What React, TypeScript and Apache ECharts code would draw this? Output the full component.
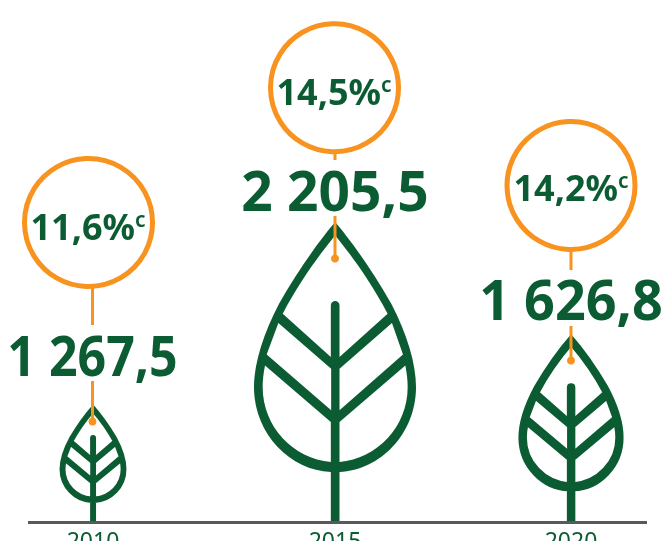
import React, { useEffect, useRef } from "react";
import * as echarts from "echarts";

const years = ["2010", "2015", "2020"];
const values = [1267.5, 2205.5, 1626.8];
const valueLabels = ["1 267,5", "2 205,5", "1 626,8"];
const shares = ["11,6%", "14,5%", "14,2%"];
const shareNote = "c";

const GREEN = "#0b5c33";
const ORANGE = "#f7931e";
const AXIS_MIN = 667.5;

const leaf =
  "M315 65 C345 100 415 190 483 310 C530 400 557 490 557 560 C557 700 450 810 328 815 L328 965 L302 965 L302 815 C180 810 72 700 72 560 C72 490 100 400 147 310 C215 190 285 100 315 65 Z " +
  "M315 105 C290 135 215 230 158 340 L302 470 L302 315 C302 297 328 297 328 315 L328 470 L472 340 C415 230 340 135 315 105 Z " +
  "M145 368 L110 462 L303 630 L303 505 Z " +
  "M328 505 L328 630 L518 462 L485 368 Z " +
  "M105 495 C100 520 98 540 98 560 C98 680 190 775 302 785 L302 665 Z " +
  "M328 665 L328 785 C440 775 532 680 532 560 C532 540 530 520 525 495 Z";

// annotation layout per year, in page pixels
const layout = [
  { x: 92.5, cx: 88.5, cy: 222.5, tx: 88, ty: 226, vy: 355, vs: 0.91, a: [288, 325], b: [381, 422], w: 0.28, off: 0, extra: 2.5 },
  { x: 335, cx: 334.5, cy: 87.7, tx: 334, ty: 91, vy: 189, vs: 1, a: [154, 160], b: [216, 259], w: 0.678, off: 3, extra: 0 },
  { x: 571, cx: 571, cy: 185.5, tx: 571, ty: 187, vy: 299, vs: 0.98, a: [252, 270], b: [326, 361], w: 0.44, off: 0, extra: 3 },
];

export default function App() {
  const ref = useRef<HTMLDivElement>(null);
  useEffect(() => {
    const chart = echarts.init(ref.current!, undefined, { renderer: "svg" });
    const graphic: any[] = [];
    layout.forEach((l, i) => {
      const line = (seg: number[]) => ({
        type: "line",
        z: 10,
        shape: { x1: l.x, y1: seg[0], x2: l.x, y2: seg[1] },
        style: { stroke: ORANGE, lineWidth: 3 },
      });
      graphic.push(line(l.a), line(l.b));
      graphic.push({
        type: "circle",
        z: 10,
        shape: { cx: l.x, cy: l.b[1] - 0.5, r: 4 },
        style: { fill: ORANGE },
      });
      graphic.push({
        type: "circle",
        z: 10,
        shape: { cx: l.cx, cy: l.cy, r: 64 },
        style: { fill: "#fff", stroke: ORANGE, lineWidth: 5 },
      });
      graphic.push({
        type: "text",
        z: 11,
        x: l.tx,
        y: l.ty,
        style: {
          text: `{p|${shares[i]}}{s|${shareNote}}`,
          align: "center",
          verticalAlign: "middle",
          rich: {
            p: { font: "bold 36px 'Noto Sans'", fill: GREEN },
            s: { font: "600 21px 'Noto Sans'", fill: GREEN, verticalAlign: "top" },
          },
        },
      });
      graphic.push({
        type: "text",
        z: 11,
        x: l.x,
        y: l.vy,
        scaleX: l.vs,
        style: {
          text: valueLabels[i],
          font: "bold 55px 'Noto Sans'",
          fill: GREEN,
          align: "center",
          verticalAlign: "middle",
        },
      });
    });
    graphic.push({
      type: "line",
      z: 5,
      shape: { x1: 28, y1: 522.5, x2: 647, y2: 522.5 },
      style: { stroke: "#58595b", lineWidth: 3 },
    });
    chart.setOption({
      animation: false,
      grid: { left: -26.5, top: 0, width: 717, height: 522, outerBoundsMode: "none" },
      xAxis: {
        type: "category",
        data: years,
        axisLine: { show: false },
        axisTick: { show: false },
        axisLabel: {
          margin: 6,
          color: GREEN,
          fontFamily: "Noto Sans",
          fontSize: 23,
          hideOverlap: false,
          formatter: (v: string) => (v === "2015" ? `{s|${v}}` : v),
          rich: { s: { color: GREEN, fontFamily: "Noto Sans", fontSize: 23, padding: [0, 0, 0, 6] } },
        },
      },
      yAxis: { type: "value", show: false, min: AXIS_MIN, max: 3344.5, splitLine: { show: false } },
      series: [
        {
          type: "custom",
          clip: false,
          data: values.map((v, i) => [i, v]),
          renderItem: (params: any, api: any) => {
            const i = params.dataIndex;
            const top = api.coord([api.value(0), api.value(1)]);
            const bottom = api.coord([api.value(0), AXIS_MIN]);
            const e = layout[i].extra;
            const w = api.size([1, 0])[0] * layout[i].w - e;
            return {
              type: "path",
              shape: {
                pathData: leaf,
                layout: "cover",
                x: top[0] + layout[i].off - w / 2,
                y: top[1] + e / 2,
                width: w,
                height: bottom[1] - top[1] - e,
              },
              style: { fill: GREEN, stroke: e ? GREEN : "none", lineWidth: e, lineJoin: "miter" },
            };
          },
        },
      ],
      graphic,
    });
    return () => chart.dispose();
  }, []);
  return <div ref={ref} style={{ position: "fixed", left: 0, top: 0, width: 663, height: 541 }} />;
}
